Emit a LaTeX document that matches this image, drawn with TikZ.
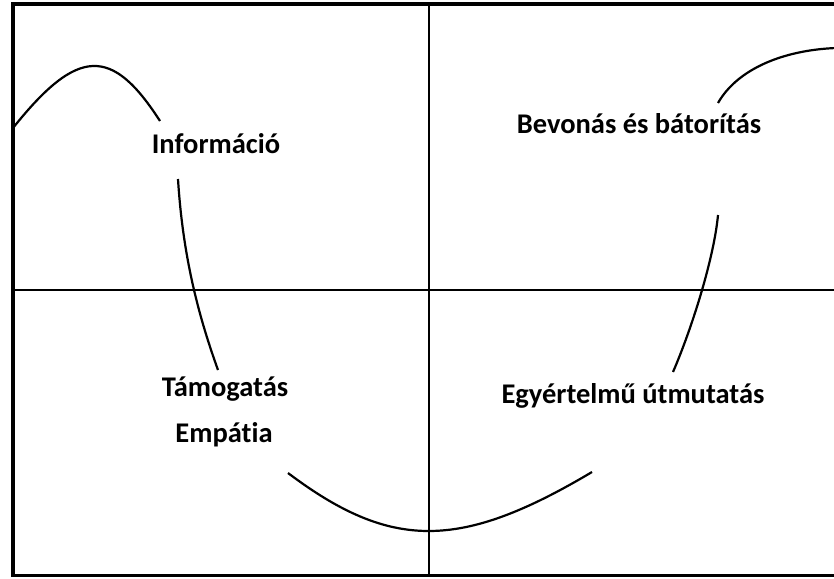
\documentclass[tikz,border=0pt]{standalone}
\usepackage{fontspec}
\setmainfont{Carlito}[RawFeature={-liga;-clig}]
\usetikzlibrary{positioning}

\begin{document}
\begin{tikzpicture}[x=1pt,y=-1pt,
  lbl/.style={font=\bfseries\fontsize{28.5}{31}\selectfont,inner sep=0pt,anchor=base},
  wave/.style={line width=2.2pt},
  axis/.style={line width=1.2pt}]
\useasboundingbox (0,0) rectangle (834,578);
% frame and quadrants
\draw[line width=3.5pt] (13,4) rectangle (845,575.5);
\draw[axis,line width=1.8pt] (13,290) -- (834,290);
\draw[axis] (429,4) -- (429,575.5);
% labels
\node[lbl] (info) at (216,153) {Információ};
\node[lbl] (bevon) at (639,133) {Bevonás és bátorítás};
\node[lbl] (tamog) at (225,396) {Támogatás};
\node[lbl] (empat) at (224,442) {Empátia};
\node[lbl] (egyert) at (633,403) {Egyértelmű útmutatás};
% the wave, broken at the labels
\draw[wave] (13,128) .. controls (78,46.5) and (112,46.5) .. (160,121);
\draw[wave] (178,179) .. controls (183,260) and (200,320) .. (218,370);
\draw[wave] (288,473) .. controls (391,550.5) and (460,550.5) .. (592,472);
\draw[wave] (673,372) .. controls (692,328) and (714,258) .. (718,215);
\draw[wave] (718,103) .. controls (738,68) and (785,50) .. (836,48);
\end{tikzpicture}
\end{document}
